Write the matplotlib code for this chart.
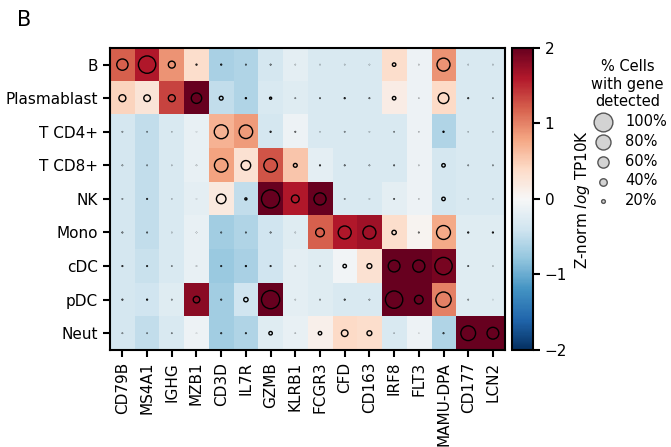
import numpy as np
import matplotlib
matplotlib.use('Agg')
import matplotlib.pyplot as plt

# cell types (rows) and marker genes (columns)
cell_types = ['B', 'Plasmablast', 'T CD4+', 'T CD8+', 'NK', 'Mono', 'cDC', 'pDC', 'Neut']
genes = ['CD79B', 'MS4A1', 'IGHG', 'MZB1', 'CD3D', 'IL7R', 'GZMB', 'KLRB1',
         'FCGR3', 'CFD', 'CD163', 'IRF8', 'FLT3', 'MAMU-DPA', 'CD177', 'LCN2']

# Z-normalised log TP10K expression
znorm = np.array([
    [1.2, 1.6, 0.9, 0.35, -0.65, -0.6, -0.35, -0.2, -0.3, -0.3, -0.3, 0.35, -0.1, 0.9, -0.3, -0.3],
    [0.45, 0.25, 1.35, 2.2, -0.5, -0.6, -0.3, -0.25, -0.3, -0.3, -0.3, 0.15, -0.1, 0.4, -0.3, -0.3],
    [-0.35, -0.5, -0.3, -0.15, 0.7, 0.85, -0.35, -0.1, -0.3, -0.3, -0.3, -0.3, -0.1, -0.6, -0.3, -0.3],
    [-0.35, -0.5, -0.3, -0.15, 0.8, 0.3, 1.25, 0.55, -0.2, -0.3, -0.3, -0.3, -0.1, -0.35, -0.3, -0.3],
    [-0.35, -0.5, -0.3, -0.2, 0.2, -0.5, 2.2, 1.6, 2.1, -0.3, -0.3, -0.2, -0.1, -0.35, -0.3, -0.3],
    [-0.35, -0.5, -0.3, -0.15, -0.7, -0.6, -0.4, -0.25, 1.2, 1.6, 1.7, 0.35, 0.05, 0.75, -0.25, -0.25],
    [-0.35, -0.45, -0.3, -0.15, -0.75, -0.65, -0.4, -0.2, -0.25, -0.05, 0.3, 2.2, 2.1, 1.9, -0.25, -0.25],
    [-0.35, -0.4, -0.25, 1.8, -0.7, -0.4, 2.2, -0.2, -0.25, -0.3, -0.3, 2.2, 2.2, 1.0, -0.25, -0.25],
    [-0.35, -0.5, -0.3, -0.1, -0.7, -0.6, -0.25, -0.15, 0.1, 0.4, 0.35, -0.3, -0.1, -0.6, 2.2, 2.2],
])

# % cells with gene detected
pct = np.array([
    [65, 100, 40, 5, 5, 3, 3, 1, 1, 1, 1, 20, 1, 75, 1, 1],
    [40, 38, 40, 60, 22, 6, 12, 2, 3, 5, 3, 20, 1, 62, 4, 2],
    [2, 2, 1, 0.5, 80, 78, 5, 3, 1, 2, 1, 2, 1, 6, 1, 1],
    [2, 2, 1, 1, 78, 55, 78, 22, 4, 3, 2, 3, 1, 20, 2, 2],
    [2, 4, 1, 0.5, 55, 12, 105, 45, 70, 2, 1, 3, 1, 20, 1, 1],
    [3, 3, 1, 1, 3, 3, 3, 1, 50, 75, 75, 25, 3, 80, 5, 5],
    [4, 4, 2, 1, 4, 5, 4, 1, 2, 20, 28, 68, 70, 100, 3, 1],
    [4, 5, 2, 38, 4, 25, 105, 1, 2, 4, 2, 100, 50, 88, 2, 0.5],
    [2, 2, 2, 0.5, 4, 4, 20, 1, 20, 38, 28, 1, 0.5, 4, 85, 68],
])

legend_pct = [100, 80, 60, 40, 20]


def size_of(p):
    return (0.125 * np.asarray(p)) ** 2


plt.rcParams['font.size'] = 11

fig = plt.figure(figsize=(6.71, 4.47), dpi=100)
ax = fig.add_axes([0.164, 0.217, 0.589, 0.676])
cax = fig.add_axes([0.763, 0.217, 0.031, 0.676])

im = ax.imshow(znorm, cmap='RdBu_r', vmin=-2, vmax=2, aspect='auto',
               interpolation='nearest')

yy, xx = np.meshgrid(np.arange(len(cell_types)), np.arange(len(genes)), indexing='ij')
ax.scatter(xx.ravel(), yy.ravel(), s=size_of(pct.ravel()), facecolors='none',
           edgecolors='black', linewidths=1)

ax.set_xticks(np.arange(len(genes)))
ax.set_xticklabels(genes, rotation=90)
ax.set_yticks(np.arange(len(cell_types)))
ax.set_yticklabels(cell_types)
ax.set_xlim(-0.5, len(genes) - 0.5)
ax.set_ylim(len(cell_types) - 0.5, -0.5)
ax.tick_params(length=5, width=1.5)
for s in ax.spines.values():
    s.set_linewidth(1.5)

cb = fig.colorbar(im, cax=cax, ticks=[-2, -1, 0, 1, 2])
cb.outline.set_linewidth(1.5)
cb.ax.tick_params(length=5, width=1.5)
cb.set_label('Z-norm $\\it{log}$ TP10K', labelpad=4)

# size legend
handles = [plt.scatter([], [], s=(0.135 * p) ** 2, facecolor='#d3d3d3', edgecolor='#555555',
                       linewidth=1) for p in legend_pct]
leg = fig.legend(handles, ['%d%%' % p for p in legend_pct],
                 title='% Cells\nwith gene\ndetected', loc='upper left',
                 bbox_to_anchor=(0.862, 0.89), frameon=False, fontsize=10.5,
                 title_fontsize=10.5, labelspacing=0.33, handletextpad=0.5,
                 borderpad=0.2)
leg.get_title().set_multialignment('center')

fig.text(0.025, 0.955, 'B', fontsize=15, va='center')

plt.savefig('out.png', dpi=100)
